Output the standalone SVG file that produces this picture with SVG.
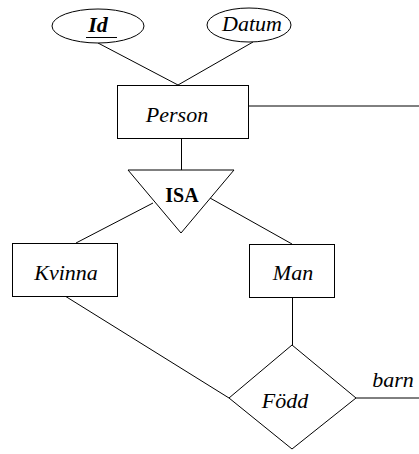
<svg xmlns="http://www.w3.org/2000/svg" width="419" height="454" viewBox="0 0 419 454">
<style>
.shape{fill:#fff;stroke:#000;stroke-width:1}
.edge{stroke:#000;stroke-width:1;fill:none}
.lbl{font-family:"Liberation Serif","Times New Roman",serif;font-style:italic;font-size:22px;fill:#000;text-anchor:middle}
.bold{font-weight:bold}
.isa{font-family:"Liberation Serif","Times New Roman",serif;font-weight:bold;font-size:20px;fill:#000;text-anchor:middle}
</style>
<rect width="419" height="454" fill="#fff"/>
<g id="connectors">
<line class="edge" x1="98" y1="43" x2="178" y2="85"/>
<line class="edge" x1="253" y1="42" x2="178" y2="85"/>
<line class="edge" x1="249" y1="106" x2="419" y2="106"/>
<line class="edge" x1="181.5" y1="138" x2="181.5" y2="170"/>
<line class="edge" x1="153" y1="203" x2="76" y2="243"/>
<line class="edge" x1="210" y1="198" x2="292" y2="244"/>
<line class="edge" x1="65" y1="296" x2="229" y2="398"/>
<line class="edge" x1="292.5" y1="297" x2="292.5" y2="345"/>
<line class="edge" x1="356" y1="398" x2="419" y2="398"/>
</g>
<g id="Id">
<ellipse class="shape" cx="98" cy="26" rx="46" ry="17"/>
<text class="lbl bold" x="98" y="32">Id</text>
<line class="edge" x1="86" y1="37.5" x2="117" y2="37.5"/>
</g>
<g id="Datum">
<ellipse class="shape" cx="249" cy="25" rx="42" ry="17"/>
<text class="lbl" x="252" y="31">Datum</text>
</g>
<g id="Person">
<rect class="shape" x="117.5" y="85.5" width="131" height="53"/>
<text class="lbl" x="177" y="122">Person</text>
</g>
<g id="ISA">
<polygon class="shape" points="128,170 234,170 181,233"/>
<text class="isa" x="182" y="202">ISA</text>
</g>
<g id="Kvinna">
<rect class="shape" x="12.5" y="243.5" width="105" height="53"/>
<text class="lbl" x="66" y="280">Kvinna</text>
</g>
<g id="Man">
<rect class="shape" x="249.5" y="244.5" width="85" height="53"/>
<text class="lbl" x="293" y="280">Man</text>
</g>
<g id="Fodd">
<polygon class="shape" points="292,345 356,398 292,449 229,398"/>
<text class="lbl" x="285" y="408">Född</text>
</g>
<g id="barn">
<text class="lbl" x="393" y="387">barn</text>
</g>
</svg>
